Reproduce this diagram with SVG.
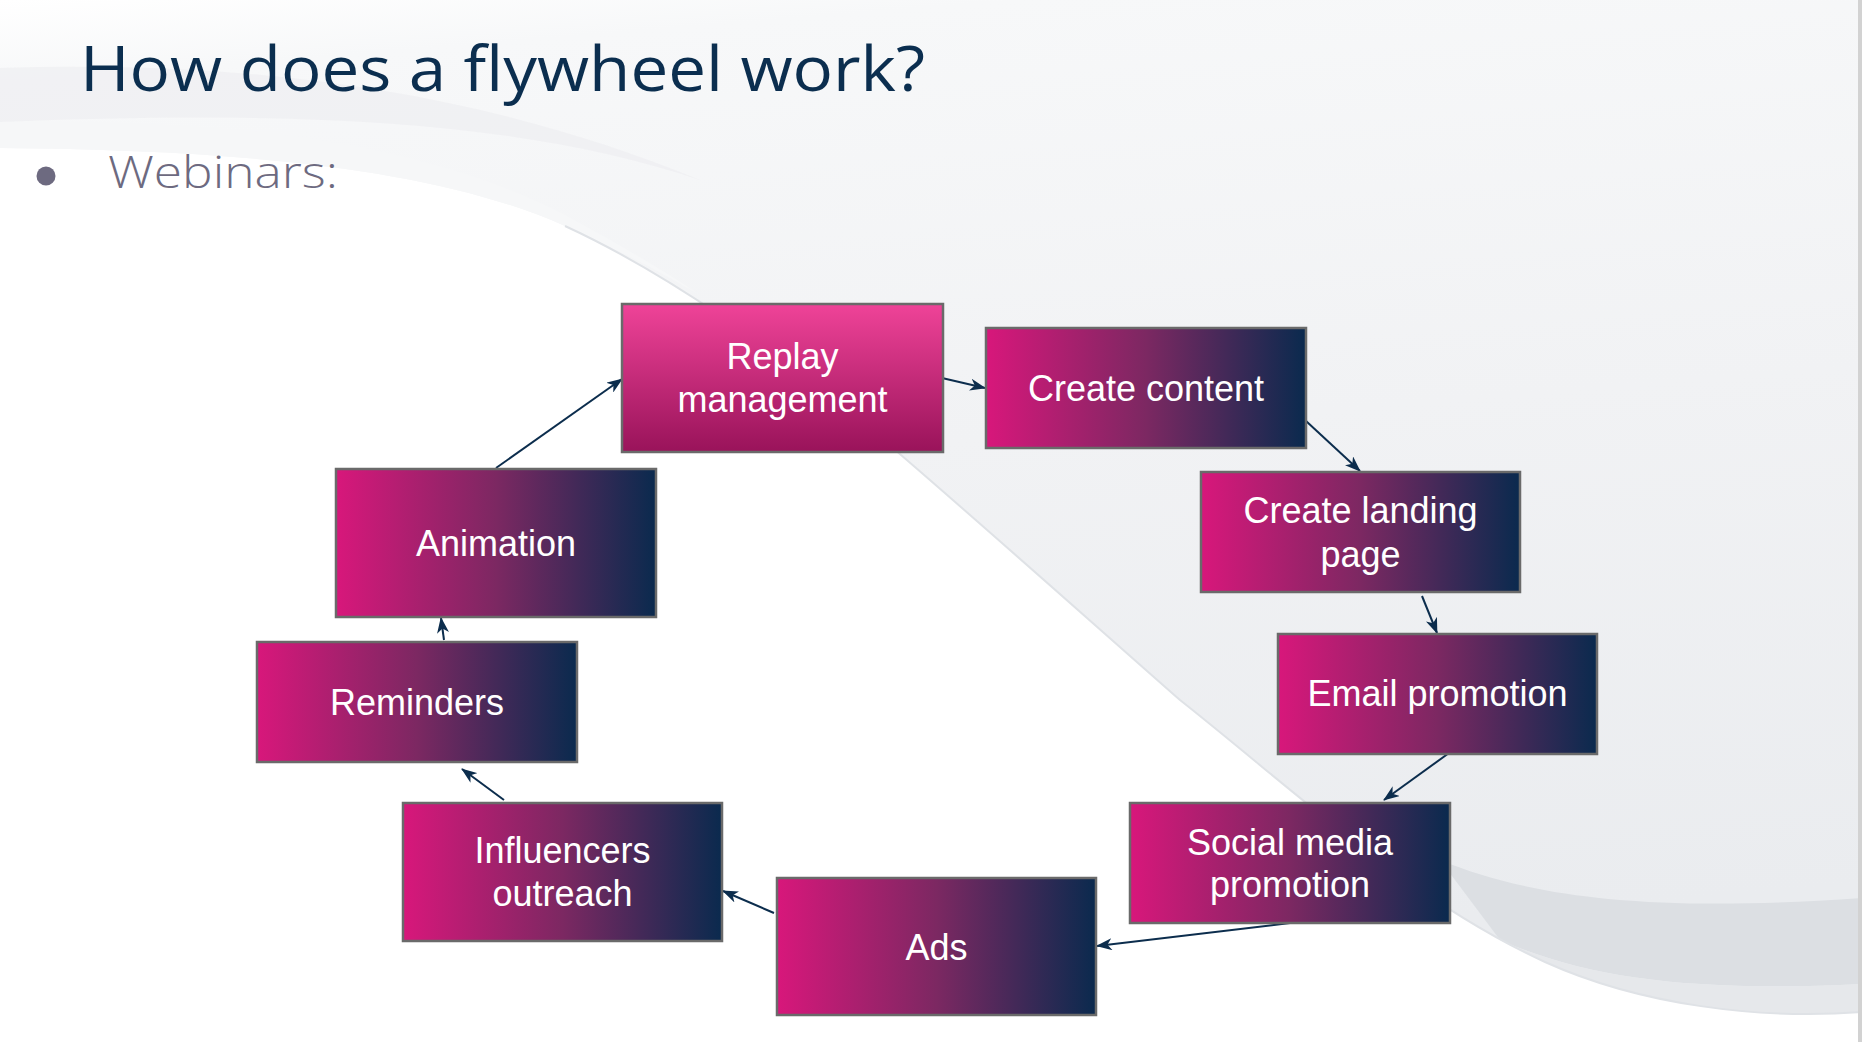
<svg xmlns="http://www.w3.org/2000/svg" width="1862" height="1042" viewBox="0 0 1862 1042">
  <defs>
    <linearGradient id="bgGray" x1="0" y1="0" x2="0.15" y2="1">
      <stop offset="0" stop-color="#ffffff"/>
      <stop offset="0.08" stop-color="#f7f8f9"/>
      <stop offset="0.5" stop-color="#f1f2f4"/>
      <stop offset="1" stop-color="#eaecef"/>
    </linearGradient>
    <linearGradient id="boxGrad" x1="0" y1="0" x2="1" y2="0">
      <stop offset="0" stop-color="#d8177b"/>
      <stop offset="0.5" stop-color="#7c2862"/>
      <stop offset="1" stop-color="#0a2a4e"/>
    </linearGradient>
    <linearGradient id="replayGrad" x1="0" y1="0" x2="0" y2="1">
      <stop offset="0" stop-color="#ef4398"/>
      <stop offset="1" stop-color="#99135a"/>
    </linearGradient>
    <marker id="arrow" viewBox="0 0 16 12" refX="15" refY="6" markerWidth="16" markerHeight="12" markerUnits="userSpaceOnUse" orient="auto">
      <path d="M0,0 L16,6 L0,12 L4.5,6 Z" fill="#0c2d4d"/>
    </marker>
    <style>
      .box { stroke: #6a6a6a; stroke-width: 2.5; }
      .lbl { font-family: "Liberation Sans", Arial, sans-serif; font-size: 36px; fill: #ffffff; text-anchor: middle; }
      .conn { stroke: #0c2d4d; stroke-width: 2; fill: none; marker-end: url(#arrow); }
    </style>
  </defs>

  <!-- background -->
  <rect x="0" y="0" width="1862" height="1042" fill="#ffffff"/>
  <path d="M0,0 H1862 V1012 C1760,1020 1640,1005 1545,962 C1410,900 1300,795 1180,700 C1080,612 960,505 880,437 C780,352 665,272 565,226 C440,170 250,150 0,148 Z" fill="url(#bgGray)"/>
  <path d="M0,122 C220,118 420,140 565,215 C620,245 660,268 700,295 C660,272 620,250 565,226 C440,170 250,150 0,148 Z" fill="#f6f7f8"/>
  <path d="M0,68 C250,60 480,90 700,180 C520,120 300,110 0,122 Z" fill="#ecedf0" opacity="0.6"/>
  <path d="M1440,860 C1530,897 1650,913 1862,898 V984 C1700,992 1590,980 1500,940 Z" fill="#dcdfe3"/>
  <path d="M1500,940 C1590,980 1700,992 1862,984 V1012 C1760,1020 1640,1005 1545,962 Z" fill="#e6e8eb"/>
  <path d="M565,226 C665,272 780,352 880,437 C960,505 1080,612 1180,700 C1300,795 1410,900 1545,962 C1640,1005 1760,1020 1862,1012" fill="none" stroke="#dfe2e6" stroke-width="2"/>
  <rect x="1858" y="0" width="4" height="1042" fill="#d2d2d2"/>

  <!-- title -->
  <text x="80" y="91" font-family="'Open Sans', 'Liberation Sans', sans-serif" font-size="62" font-weight="500" fill="#0b2e4f" textLength="845" lengthAdjust="spacingAndGlyphs">How does a flywheel work?</text>
  <circle cx="46" cy="176" r="9.5" fill="#6d6a80"/>
  <text x="108" y="188" font-family="'Open Sans', 'Liberation Sans', sans-serif" font-size="44" font-weight="300" fill="#6d6a80" textLength="230" lengthAdjust="spacingAndGlyphs">Webinars:</text>

  <!-- connectors -->
  <g id="connectors">
    <line class="conn" x1="496" y1="468" x2="622" y2="379"/>
    <line class="conn" x1="942" y1="378" x2="985" y2="388"/>
    <line class="conn" x1="1306" y1="421" x2="1360" y2="471"/>
    <line class="conn" x1="1422" y1="596" x2="1437" y2="633"/>
    <line class="conn" x1="1449" y1="753" x2="1384" y2="800"/>
    <line class="conn" x1="1290" y1="923" x2="1097" y2="946"/>
    <line class="conn" x1="774" y1="913" x2="723" y2="891"/>
    <line class="conn" x1="504" y1="800" x2="462" y2="769"/>
    <line class="conn" x1="444" y1="640" x2="441" y2="618"/>
  </g>

  <!-- nodes -->
  <g id="replay">
    <rect class="box" x="622" y="304" width="321" height="148" fill="url(#replayGrad)"/>
    <text class="lbl" x="782.5" y="369">Replay</text>
    <text class="lbl" x="782.5" y="412">management</text>
  </g>
  <g id="create-content">
    <rect class="box" x="986" y="328" width="320" height="120" fill="url(#boxGrad)"/>
    <text class="lbl" x="1146" y="401">Create content</text>
  </g>
  <g id="landing-page">
    <rect class="box" x="1201" y="472" width="319" height="120" fill="url(#boxGrad)"/>
    <text class="lbl" x="1360.5" y="523">Create landing</text>
    <text class="lbl" x="1360.5" y="567">page</text>
  </g>
  <g id="email-promotion">
    <rect class="box" x="1278" y="634" width="319" height="120" fill="url(#boxGrad)"/>
    <text class="lbl" x="1437.5" y="706">Email promotion</text>
  </g>
  <g id="social-media">
    <rect class="box" x="1130" y="803" width="320" height="120" fill="url(#boxGrad)"/>
    <text class="lbl" x="1290" y="855">Social media</text>
    <text class="lbl" x="1290" y="897">promotion</text>
  </g>
  <g id="ads">
    <rect class="box" x="777" y="878" width="319" height="137" fill="url(#boxGrad)"/>
    <text class="lbl" x="936.5" y="960">Ads</text>
  </g>
  <g id="influencers">
    <rect class="box" x="403" y="803" width="319" height="138" fill="url(#boxGrad)"/>
    <text class="lbl" x="562.5" y="863">Influencers</text>
    <text class="lbl" x="562.5" y="906">outreach</text>
  </g>
  <g id="reminders">
    <rect class="box" x="257" y="642" width="320" height="120" fill="url(#boxGrad)"/>
    <text class="lbl" x="417" y="715">Reminders</text>
  </g>
  <g id="animation">
    <rect class="box" x="336" y="469" width="320" height="148" fill="url(#boxGrad)"/>
    <text class="lbl" x="496" y="556">Animation</text>
  </g>
</svg>
